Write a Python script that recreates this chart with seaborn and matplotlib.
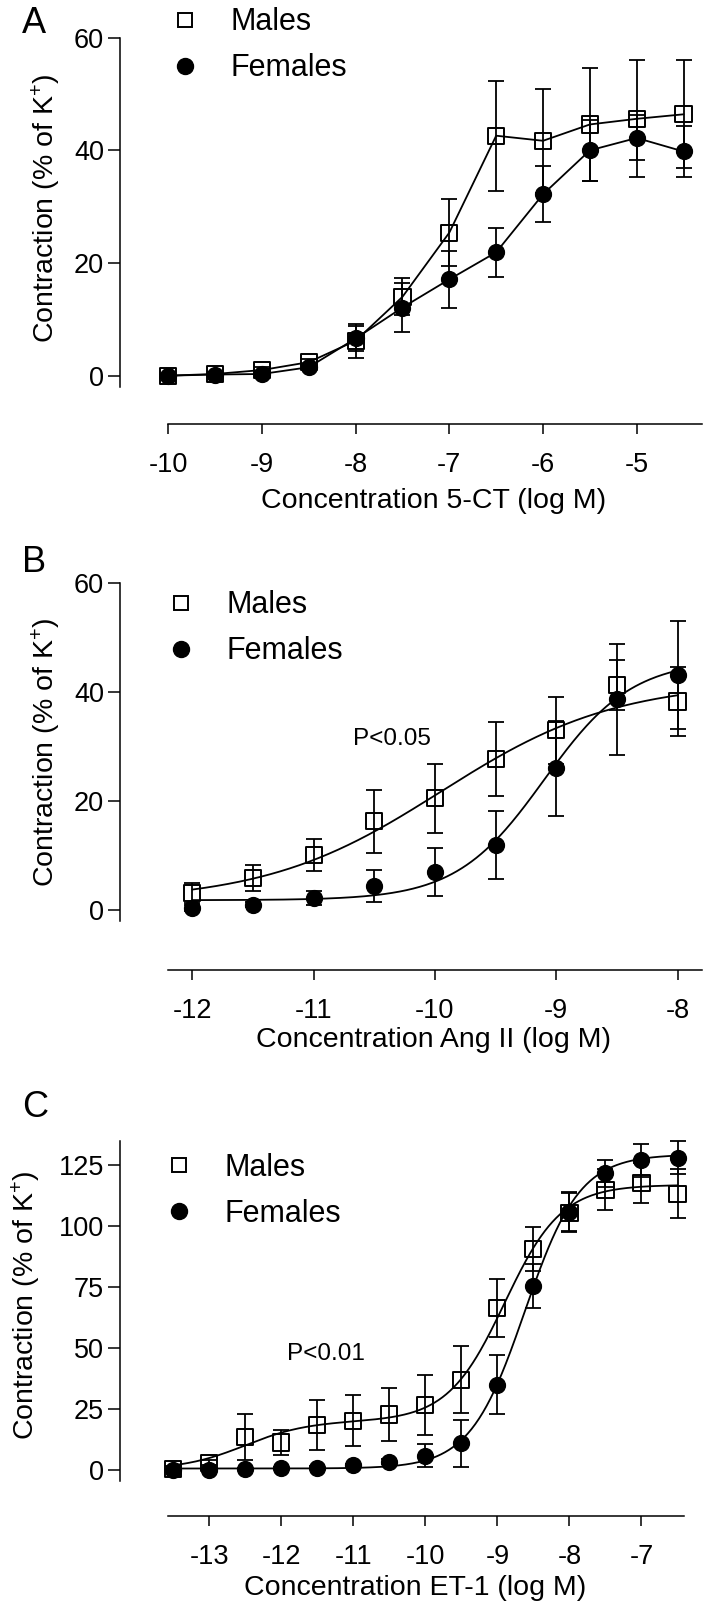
import numpy as np
import matplotlib
matplotlib.use('Agg')
import matplotlib.pyplot as plt
import seaborn as sns
from matplotlib.lines import Line2D

# Panel A: 5-CT (points joined by straight lines)
a_conc = [-10, -9.5, -9, -8.5, -8, -7.5, -7, -6.5, -6, -5.5, -5, -4.5]
a_males = [0.0, 0.3, 1.0, 2.4, 6.2, 14.0, 25.4, 42.6, 41.7, 44.6, 45.6, 46.4]
a_males_sem = [0.3, 0.4, 0.5, 0.6, 3.0, 3.3, 5.9, 9.8, 9.2, 10.1, 10.4, 9.6]
a_females = [0.0, 0.2, 0.3, 1.5, 6.6, 12.1, 17.1, 21.9, 32.2, 40.0, 42.2, 39.8]
a_females_sem = [0.3, 0.3, 0.4, 0.5, 2.2, 4.3, 5.0, 4.4, 5.0, 5.4, 4.0, 4.5]

# Panel B: Ang II (points + fitted sigmoid curves)
b_conc = [-12, -11.5, -11, -10.5, -10, -9.5, -9, -8.5, -8]
b_males = [3.1, 5.9, 10.1, 16.3, 20.5, 27.8, 33.0, 41.4, 38.3]
b_males_sem = [1.9, 2.4, 3.0, 5.8, 6.3, 6.8, 6.1, 4.6, 6.4]
b_females = [0.4, 1.0, 2.2, 4.4, 7.0, 11.9, 26.0, 38.7, 43.2]
b_females_sem = [0.5, 0.5, 1.2, 3.0, 4.4, 6.2, 8.7, 10.2, 9.9]
# fitted curve parameters: bottom, top, logEC50, hill slope
b_males_fit = [1.5, 42.0, -9.95, 0.6]
b_females_fit = [1.8, 46.0, -9.1, 1.2]

# Panel C: ET-1
c_conc = [-13.5, -13, -12.5, -12, -11.5, -11, -10.5, -10, -9.5, -9, -8.5, -8, -7.5, -7, -6.5]
c_males = [0.4, 2.9, 13.6, 11.2, 18.4, 20.1, 22.7, 26.5, 37.0, 66.4, 90.6, 105.5, 115.0, 117.8, 113.4]
c_males_sem = [1.0, 1.0, 9.4, 5.3, 10.3, 10.5, 11.0, 12.2, 13.9, 12.0, 9.0, 8.0, 8.5, 8.3, 10.1]
c_females = [0.0, 0.0, 0.3, 0.8, 0.9, 1.8, 3.3, 5.7, 10.9, 34.9, 75.3, 105.9, 121.7, 127.0, 128.2]
c_females_sem = [0.3, 0.3, 0.4, 0.5, 0.5, 0.7, 1.0, 4.7, 9.6, 12.2, 9.0, 8.0, 5.7, 6.6, 6.8]
# biphasic fit for males: bottom, span1, logEC50_1, span2, logEC50_2, hill2
c_males_fit = [0.0, 20.0, -12.5, 97.0, -8.9, 1.1]
c_females_fit = [0.5, 129.5, -8.62, 1.14]

sns.set_theme(style='ticks')
plt.rcParams['font.family'] = ['Liberation Sans', 'DejaVu Sans']
plt.rcParams['axes.unicode_minus'] = False
plt.rcParams['mathtext.default'] = 'regular'

W, H = 706, 1605
fig = plt.figure(figsize=(W / 100, H / 100), dpi=100)


def px_axes(left, top, right, bottom):
    return fig.add_axes([left / W, 1 - bottom / H, (right - left) / W, (bottom - top) / H])


def sigmoid(x, p):
    bottom, top, ec50, hill = p
    return bottom + (top - bottom) / (1 + 10 ** ((ec50 - x) * hill))


def biphasic(x, p):
    bottom, span1, ec1, span2, ec2, hill2 = p
    return bottom + span1 / (1 + 10 ** (ec1 - x)) + span2 / (1 + 10 ** ((ec2 - x) * hill2))


def draw_points(ax, conc, males, males_sem, females, females_sem):
    for vals, sem in [(males, males_sem), (females, females_sem)]:
        ax.errorbar(conc, vals, yerr=sem, fmt='none', ecolor='black', elinewidth=1.3,
                    capsize=5.8, capthick=1.3, zorder=2, clip_on=False)
    sns.scatterplot(x=conc, y=males, marker='s', s=135, facecolor='none', edgecolor='black',
                    linewidth=1.4, ax=ax, zorder=3, clip_on=False)
    sns.scatterplot(x=conc, y=females, marker='o', s=130, color='black', edgecolor='black',
                    linewidth=1.0, ax=ax, zorder=4, clip_on=False)


def style_axes(ax, xlim, ylim, xticks, yticks, ybounds, xbounds, xlabel, xlab_pos, ylab_pos):
    ax.set_xlim(*xlim)
    ax.set_ylim(*ylim)
    ax.set_xticks(xticks)
    ax.set_yticks(yticks)
    ax.spines['top'].set_visible(False)
    ax.spines['right'].set_visible(False)
    ax.spines['left'].set_bounds(*ybounds)
    ax.spines['bottom'].set_bounds(*xbounds)
    for s in ['left', 'bottom']:
        ax.spines[s].set_linewidth(1.1)
        ax.spines[s].set_color('black')
    ax.tick_params(axis='y', length=8.4, width=1.1, pad=2.9, labelsize=19.5, colors='black')
    ax.tick_params(axis='x', length=7.5, width=1.1, pad=12.5, labelsize=19.5, colors='black')
    ax.set_xlabel(xlabel, fontsize=20.5, color='black', va='center')
    ax.set_ylabel('Contraction (% of K$^{+}$)', fontsize=20.5, color='black', va='center')
    ax.xaxis.set_label_coords(*xlab_pos)
    ax.yaxis.set_label_coords(*ylab_pos)
    ax.set_facecolor('none')


def add_legend(ax, left_px, top_px):
    handles = [Line2D([], [], ls='none', marker='s', ms=10.5, mfc='none', mec='black', mew=1.4),
               Line2D([], [], ls='none', marker='o', ms=11.5, mfc='black', mec='black')]
    ax.legend(handles, ['Males', 'Females'], loc='upper left', frameon=False,
              bbox_to_anchor=(left_px / W, 1 - top_px / H), bbox_transform=fig.transFigure,
              borderpad=0, borderaxespad=0, handlelength=1.0, handletextpad=1.0,
              labelspacing=0.52, fontsize=22, numpoints=1, labelcolor='black')


# ---- Panel A ----
ax_a = px_axes(119.9, 37.7, 702.3, 424)
sns.lineplot(x=a_conc, y=a_males, color='black', lw=1.3, ax=ax_a, zorder=1)
sns.lineplot(x=a_conc, y=a_females, color='black', lw=1.3, ax=ax_a, zorder=1)
draw_points(ax_a, a_conc, a_males, a_males_sem, a_females, a_females_sem)
style_axes(ax_a, (-10.516, -4.30), (-8.58, 60), [-10, -9, -8, -7, -6, -5], [0, 20, 40, 60],
           (-2, 60), (-10, -4.30), 'Concentration 5-CT (log M)', (0.539, -0.2), (-0.127, 0.559))
add_legend(ax_a, 169.7, 7.4)

# ---- Panel B ----
ax_b = px_axes(119.9, 583.3, 702.3, 970)
xb = np.linspace(min(b_conc), max(b_conc), 300)
sns.lineplot(x=xb, y=sigmoid(xb, b_males_fit), color='black', lw=1.3, ax=ax_b, zorder=1)
sns.lineplot(x=xb, y=sigmoid(xb, b_females_fit), color='black', lw=1.3, ax=ax_b, zorder=1)
draw_points(ax_b, b_conc, b_males, b_males_sem, b_females, b_females_sem)
style_axes(ax_b, (-12.597, -7.796), (-11.02, 60), [-12, -11, -10, -9, -8], [0, 20, 40, 60],
           (-2, 60), (-12.2, -7.796), 'Concentration Ang II (log M)', (0.539, -0.182), (-0.126, 0.564))
ax_b.text(-10.675, 30.3, 'P<0.05', fontsize=17.5, color='black', va='baseline', ha='left')
add_legend(ax_b, 165.7, 590.4)

# ---- Panel C ----
ax_c = px_axes(119.9, 1141, 684, 1516)
xc = np.linspace(min(c_conc), max(c_conc), 400)
sns.lineplot(x=xc, y=biphasic(xc, c_males_fit), color='black', lw=1.3, ax=ax_c, zorder=1)
sns.lineplot(x=xc, y=sigmoid(xc, c_females_fit), color='black', lw=1.3, ax=ax_c, zorder=1)
draw_points(ax_c, c_conc, c_males, c_males_sem, c_females, c_females_sem)
style_axes(ax_c, (-14.24, -6.41), (-19.0, 135), [-13, -12, -11, -10, -9, -8, -7],
           [0, 25, 50, 75, 100, 125], (-4.5, 135), (-13.57, -6.41),
           'Concentration ET-1 (log M)', (0.524, -0.193), (-0.165, 0.561))
ax_c.text(-11.92, 45, 'P<0.01', fontsize=17.5, color='black', va='baseline', ha='left')
add_legend(ax_c, 163.7, 1153)

# panel letters
for letter, base in [('A', 32.7), ('B', 572), ('C', 1117)]:
    fig.text(22 / W, 1 - base / H, letter, fontsize=26, color='black', ha='left', va='baseline')

fig.savefig('out.png', dpi=100, facecolor='white')
